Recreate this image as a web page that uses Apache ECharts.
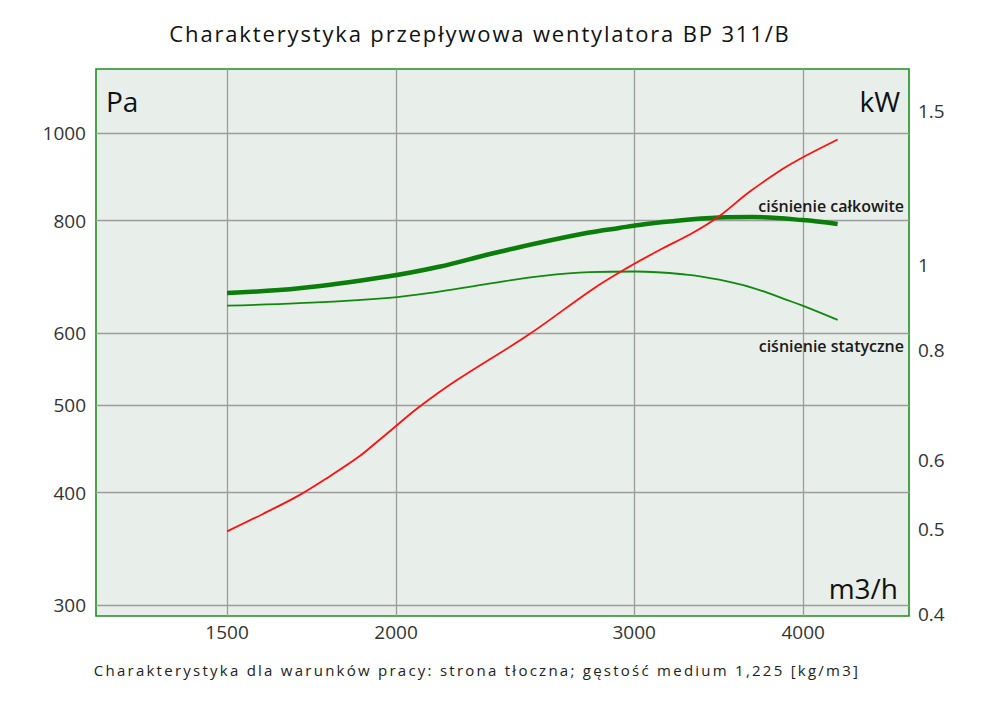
<!DOCTYPE html>
<html><head><meta charset="utf-8">
<script src="https://cdn.jsdelivr.net/npm/echarts@6/dist/echarts.min.js"></script>
<style>html,body{margin:0;padding:0;background:#fff}#c{width:1000px;height:706px}</style>
</head><body><div id="c"></div>
<script>
// ---- data ----
const xTicks = [1500, 2000, 3000, 4000];
const leftTicks = [300, 400, 500, 600, 800, 1000];
const rightTicks = [0.4, 0.5, 0.6, 0.8, 1, 1.5];
const totalPressure = [[1500,665],[1696,673],[1976,694],[2152,711],[2343,734],[2552,756],[2779,776],[2925,785],[3026,791],[3184,798],[3467,806],[3670,807],[3996,801],[4242,793]];
const staticPressure = [[1500,644],[1696,648],[1976,657],[2152,667.5],[2343,681],[2552,694],[2779,701.5],[3008,702.5],[3277,697],[3467,688],[3670,674],[3884,654],[3996,644],[4242,621]];
const power = [[1500,0.497],[1593,0.52],[1694,0.546],[1779,0.572],[1878,0.605],[1932,0.627],[1994,0.653],[2080,0.689],[2220,0.74],[2509,0.834],[2795,0.939],[2958,0.991],[3130,1.04],[3313,1.088],[3467,1.137],[3649,1.212],[3862,1.287],[3974,1.321],[4242,1.391]];
const X_MIN = 1200, X_MAX = 4790, P_MIN = 292, P_MAX = 1177, N_MIN = 0.398, N_MAX = 1.674;
const TITLE = 'Charakterystyka przepływowa wentylatora BP 311/B';
const CAPTION = 'Charakterystyka dla warunków pracy: strona tłoczna; gęstość medium 1,225 [kg/m3]';

const FONT = '"Open Sans", "Noto Sans", sans-serif';
const chart = echarts.init(document.getElementById('c'), null, {renderer: 'svg'});
const hidden = {axisLabel:{show:false}, axisTick:{show:false}, axisLine:{show:false}, splitLine:{show:false}, minorSplitLine:{show:false}};
const tickLabel = {fontSize: 19, color: '#333', fontFamily: FONT};

chart.setOption({
  animation: false,
  grid: {left: 96, top: 69, width: 813, height: 547, show: true, backgroundColor: '#e8eee9', borderColor: '#1f8f1f', borderWidth: 1.6},
  xAxis: Object.assign({type: 'log', logBase: 10, min: X_MIN, max: X_MAX}, hidden),
  yAxis: [
    Object.assign({type: 'log', logBase: 10, min: P_MIN, max: P_MAX}, hidden),
    Object.assign({type: 'log', logBase: 10, min: N_MIN, max: N_MAX, position: 'right'}, hidden)
  ],
  graphic: [
    {type:'text', x: 480, y: 33, style:{text: TITLE, font: '22px ' + FONT, fill:'#111', align:'center', verticalAlign:'middle'}},
    {type:'text', x: 477, y: 670, style:{text: CAPTION, font: '15px ' + FONT, fill:'#222', align:'center', verticalAlign:'middle'}},
    {type:'text', x: 106, y: 101, z: 10, style:{text: 'Pa', font: '28px ' + FONT, fill:'#111', align:'left', verticalAlign:'middle'}},
    {type:'text', x: 900, y: 101, z: 10, style:{text: 'kW', font: '28px ' + FONT, fill:'#111', align:'right', verticalAlign:'middle'}},
    {type:'text', x: 898, y: 588, z: 10, style:{text: 'm3/h', font: '28px ' + FONT, fill:'#111', align:'right', verticalAlign:'middle'}},
    {type:'text', x: 904, y: 206, z: 10, style:{text: 'ciśnienie całkowite', font: '600 16px ' + FONT, fill:'#1a1a1a', align:'right', verticalAlign:'middle'}},
    {type:'text', x: 904, y: 346, z: 10, style:{text: 'ciśnienie statyczne', font: '600 16px ' + FONT, fill:'#1a1a1a', align:'right', verticalAlign:'middle'}}
  ],
  series: [
    {type:'line', data: [], xAxisIndex:0, yAxisIndex:0, z: 1,
     markLine: {silent: true, symbol: ['none','none'], z: 1, animation: false,
       lineStyle: {color:'#9c9c9c', width: 1.3, type: 'solid'},
       label: tickLabel,
       data: xTicks.map(v => ({xAxis: v, label: {position: 'start', distance: 6, formatter: String(v)}}))
         .concat(leftTicks.map(v => ({yAxis: v, label: {position: 'start', distance: 10, formatter: String(v)}})))
     }},
    {type:'line', data: [], xAxisIndex:0, yAxisIndex:1, z: 1,
     markLine: {silent: true, symbol: ['none','none'], z: 1, animation: false,
       lineStyle: {color: 'rgba(0,0,0,0)', width: 0},
       label: tickLabel,
       data: rightTicks.map(v => ({yAxis: v, label: {position: 'end', distance: 9, formatter: String(v)}}))
     }},
    {name:'ciśnienie całkowite', type:'line', data: totalPressure, yAxisIndex:0, smooth: 0.35, symbol:'none', z: 3,
     lineStyle:{color:'#0a7d0a', width: 4.5}},
    {name:'ciśnienie statyczne', type:'line', data: staticPressure, yAxisIndex:0, smooth: 0.4, symbol:'none', z: 3,
     lineStyle:{color:'#0f8a0f', width: 1.8}},
    {name:'moc', type:'line', data: power, yAxisIndex:1, smooth: 0.35, symbol:'none', z: 3,
     lineStyle:{color:'#ff1010', width: 1.8}}
  ]
});

function spaceText() {
  document.querySelectorAll('#c svg text').forEach(t => {
    if (t.textContent === TITLE) t.setAttribute('letter-spacing', '1.85');
    if (t.textContent === CAPTION) t.setAttribute('letter-spacing', '2.25');
  });
}
spaceText();
chart.on('finished', spaceText);
</script></body></html>
